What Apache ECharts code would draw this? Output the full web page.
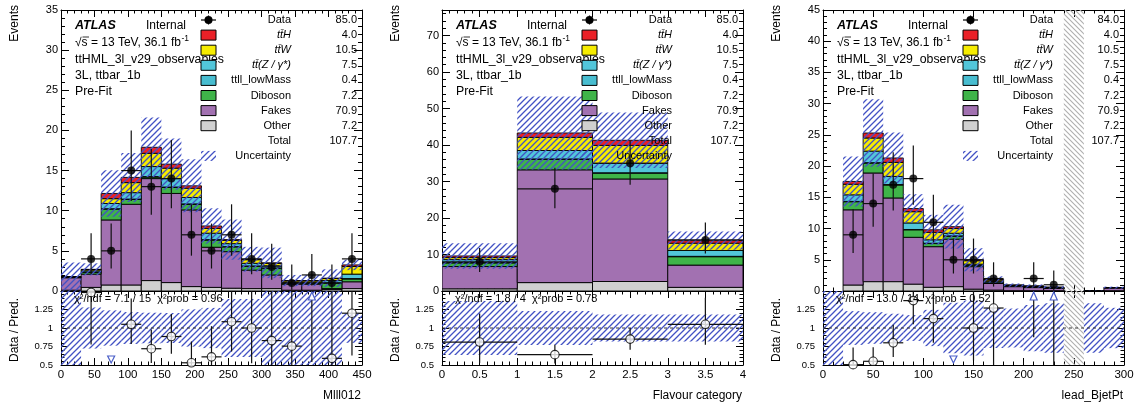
<!DOCTYPE html>
<html><head><meta charset="utf-8">
<script src="https://cdn.jsdelivr.net/npm/echarts@6/dist/echarts.min.js"></script>
<style>html,body{margin:0;padding:0;background:#fff}#c{width:1137px;height:409px}</style>
</head><body><div id="c"></div>
<script>
// ---------------- DATA ----------------
// stack order (bottom -> top): Other, Fakes, Diboson, ttll_lowMass, ttZ, ttW, ttH
const legendLabels = ['Data','tt\u0304H','tt\u0304W','tt\u0304(Z / \u03B3*)','ttll_lowMass','Diboson','Fakes','Other','Total','Uncertainty'];
const p1Yields = ['85.0','4.0','10.5','7.5','0.4','7.2','70.9','7.2','107.7',''];
const p2Yields = ['85.0','4.0','10.5','7.5','0.4','7.2','70.9','7.2','107.7',''];
const p3Yields = ['84.0','4.0','10.5','7.5','0.4','7.2','70.9','7.2','107.7',''];
const infoLines = ['ttHML_3l_v29_observables','3L, ttbar_1b','Pre-Fit'];

// Panel 1: Mlll012
const p1Edges   = [0,30,60,90,120,150,180,210,240,270,300,330,360,390,420,450];
const p1Other   = [0.1,0.45,0.75,0.75,1.3,1.05,0.55,0.45,0.35,0.3,0.3,0.1,0.1,0.2,0.3];
const p1Fakes   = [1.55,1.65,8.1,10.05,12.7,11.1,9.55,5.0,4.55,2.3,1.7,0.75,0.75,0.1,0.85];
const p1Diboson = [0.05,0.25,1.35,0.6,0.2,0.75,0.7,0.9,0.6,0.5,0.8,0.1,0.1,0.7,0.35];
const p1LowMass = [0,0.02,0.05,0.05,0.05,0.05,0.05,0.05,0.03,0.02,0.02,0.01,0.01,0.02,0.05];
const p1TtZ     = [0.05,0.15,0.65,0.8,1.25,1.05,0.8,0.8,0.37,0.33,0.33,0.09,0.09,0.28,0.55];
const p1TtW     = [0.03,0.15,0.6,1.25,1.65,1.3,1.15,0.6,0.4,0.45,0.3,0.2,0.2,0.25,0.95];
const p1TtH     = [0.02,0.03,0.65,0.65,0.75,0.5,0.3,0.3,0.1,0.05,0.05,0.05,0.05,0.05,0.2];
const p1Unc     = [1.75,0.75,2.9,3.05,3.7,3.2,3.3,2.2,2.5,1.55,1.9,0.7,0.7,1.1,0.65];
const p1Data    = [null,4,5,15,13,14,7,5,7,4,3,1,2,1,4];
const p1DataLo  = [null,2.1,2.8,11.2,9.5,10.3,4.4,2.8,4.4,2.1,1.4,0.17,0.7,0.17,2.1];
const p1DataHi  = [null,7.2,8.4,20.0,17.7,18.8,10.8,8.4,10.8,7.2,5.9,3.3,4.6,3.3,7.2];
const p1Ratio   = [null,1.48,0.42,1.05,0.72,0.885,0.53,0.61,1.085,1.0,0.83,0.755,1.54,0.59,1.2];
const p1GrayBins = [];

// Panel 2: Flavour category
const p2Edges   = [0,1,2,3,4];
const p2Other   = [0.6,2.3,2.6,1.0];
const p2Fakes   = [6.1,30.9,28.1,6.1];
const p2Diboson = [1.0,2.9,1.6,2.3];
const p2LowMass = [0.1,0.1,0.1,0.1];
const p2TtZ     = [0.8,2.3,2.6,1.6];
const p2TtW     = [0.55,3.6,4.9,2.0];
const p2TtH     = [0.45,1.2,1.4,0.7];
const p2Unc     = [3.5,10.0,7.6,2.5];
const p2Data    = [8,28,35,14];
const p2DataLo  = [5.2,22.7,29.1,10.3];
const p2DataHi  = [11.8,33.8,41.2,18.8];
const p2Ratio   = [0.81,0.64,0.85,1.05];
const p2GrayBins = [];

// Panel 3: lead_BjetPt
const p3Edges   = [0,20,40,60,80,100,120,140,160,180,200,220,240,260,280,300];
const p3Other   = [0,0.96,1.5,1.5,1.1,0.6,0.7,0.3,0.15,0.05,0.05,0.05,0,0,0.05];
const p3Fakes   = [0,12.04,17.4,13.4,7.5,6.5,7.6,3.6,1.05,0.65,0.5,0.35,0,0.05,0.45];
const p3Diboson = [0,1.3,1.6,2.1,1.2,0.5,0.5,0.2,0.1,0.05,0.1,0.1,0,0,0.02];
const p3LowMass = [0,0.05,0.05,0.05,0.05,0.05,0.03,0.02,0.02,0.01,0.01,0.01,0,0,0];
const p3TtZ     = [0,1.05,1.85,1.3,1.05,0.55,0.42,0.18,0.18,0.09,0.07,0.05,0,0.01,0.02];
const p3TtW     = [0,1.7,2.1,2.25,1.8,1.2,0.75,0.55,0.25,0.08,0.05,0.03,0,0,0.01];
const p3TtH     = [0,0.45,0.8,0.7,0.5,0.4,0.3,0.15,0.1,0.02,0.02,0.01,0,0,0];
const p3Unc     = [0,4.0,5.4,4.1,2.3,2.4,3.5,1.85,0.5,0.25,0.25,0.2,0,0.02,0.15];
const p3Data    = [null,9,14,17,18,11,5,5,2,null,2,1,null,null,null];
const p3DataLo  = [null,6.1,10.3,12.9,13.8,7.8,2.8,2.8,0.7,null,0.7,0.17,null,null,null];
const p3DataHi  = [null,13.1,18.8,22.2,23.3,15.4,8.4,8.4,4.6,null,4.6,3.3,null,null,null];
const p3Ratio   = [null,0.505,0.55,0.8,1.37,1.127,0.48,1.0,1.27,null,2.5,1.67,null,null,null];
const p3GrayBins = [12];

// ---------------- STYLE / LAYOUT ----------------
const FONT = '"Liberation Sans", Arial, Helvetica, sans-serif';
const COMP_COLORS = ['#d0d0d0','#a271b1','#3fb449','#48bdd0','#52c6da','#f6ec00','#ea2027']; // Other..ttH
const LEGEND_COLORS = ['#ea2027','#f6ec00','#52c6da','#48bdd0','#3fb449','#a271b1','#d0d0d0'];
const L = {mainTop:10, mainH:281, ratioTop:291, ratioH:74, lefts:[61,442,823], width:301};

function makeHatch(color, dir, size, lw) {
  const c = document.createElement('canvas'); c.width = size; c.height = size;
  const g = c.getContext('2d'); g.strokeStyle = color; g.lineWidth = lw; g.beginPath();
  if (dir > 0) {
    g.moveTo(0,size); g.lineTo(size,0);
    g.moveTo(-size,size); g.lineTo(size,-size);
    g.moveTo(0,2*size); g.lineTo(2*size,0);
  } else {
    g.moveTo(0,0); g.lineTo(size,size);
    g.moveTo(-size,0); g.lineTo(size,2*size);
    g.moveTo(0,-size); g.lineTo(2*size,size);
  }
  g.stroke(); return c;
}
const HATCH = {image: makeHatch('rgba(66,82,196,1)', 1, 6, 1.3), repeat:'repeat'};
const GRAYHATCH = {image: makeHatch('rgba(175,175,175,1)', -1, 5, 1.1), repeat:'repeat'};

const panels = [
  {edges:p1Edges, comps:[p1Other,p1Fakes,p1Diboson,p1LowMass,p1TtZ,p1TtW,p1TtH], unc:p1Unc, data:p1Data, lo:p1DataLo, hi:p1DataHi, ratio:p1Ratio, gray:p1GrayBins, xmax:450, xInt:50, ymax:35, yInt:5, xTitle:'Mlll012', chi2:'\u03C7\u00B2/ndf = 7.1 / 15  \u03C7\u00B2prob = 0.96', yields:p1Yields},
  {edges:p2Edges, comps:[p2Other,p2Fakes,p2Diboson,p2LowMass,p2TtZ,p2TtW,p2TtH], unc:p2Unc, data:p2Data, lo:p2DataLo, hi:p2DataHi, ratio:p2Ratio, gray:p2GrayBins, xmax:4, xInt:0.5, ymax:77, yInt:10, xTitle:'Flavour category', chi2:'\u03C7\u00B2/ndf = 1.8 / 4  \u03C7\u00B2prob = 0.78', yields:p2Yields},
  {edges:p3Edges, comps:[p3Other,p3Fakes,p3Diboson,p3LowMass,p3TtZ,p3TtW,p3TtH], unc:p3Unc, data:p3Data, lo:p3DataLo, hi:p3DataHi, ratio:p3Ratio, gray:p3GrayBins, xmax:300, xInt:50, ymax:45, yInt:5, xTitle:'lead_BjetPt', chi2:'\u03C7\u00B2/ndf = 13.0 / 14  \u03C7\u00B2prob = 0.52', yields:p3Yields}
];

// ---------------- BUILD ----------------
const grid = [], xAxis = [], yAxis = [], series = [], graphic = [];
const tickCommon = (len) => ({show:true, inside:true, length:len, lineStyle:{color:'#000', width:1}});
function mkX(gi, p, pos, labels) {
  return {type:'value', gridIndex:gi, min:0, max:p.xmax, interval:p.xInt, position:pos,
    axisLine:{show:true, onZero:false, lineStyle:{color:'#000', width:1}},
    axisTick:tickCommon(7), minorTick:{show:true, splitNumber:5, length:3.5, lineStyle:{color:'#000'}},
    splitLine:{show:false}, minorSplitLine:{show:false},
    axisLabel:{show:labels, margin:4, color:'#000', fontSize:11.5, fontFamily:FONT}};
}
function mkY(gi, min, max, interval, pos, labels, fs, margin, fmt, tl) {
  return {type:'value', gridIndex:gi, min, max, interval, position:pos,
    axisLine:{show:true, onZero:false, lineStyle:{color:'#000', width:1}},
    axisTick:tickCommon(tl), minorTick:{show:true, splitNumber:5, length:tl/2, lineStyle:{color:'#000'}},
    splitLine:{show:false}, minorSplitLine:{show:false},
    axisLabel:{show:labels, margin, color:'#000', fontSize:fs, fontFamily:FONT, formatter:fmt}};
}
function rectRender(styleFn) {
  return (params, api) => {
    const a = api.coord([api.value(0), api.value(3)]);
    const b = api.coord([api.value(1), api.value(2)]);
    return {type:'rect', shape:{x:a[0], y:a[1], width:b[0]-a[0], height:b[1]-a[1]}, style:styleFn(params)};
  };
}
function txt(x, y, text, font, align, extra) {
  return Object.assign({type:'text', x, y, z:100, silent:true, style:{text, font, fill:'#000',
    align:align||'left', textAlign:align||'left', verticalAlign:'middle', textVerticalAlign:'middle'}}, extra||{});
}
const mctx = document.createElement('canvas').getContext('2d');
function measure(t, font) { mctx.font = font; return mctx.measureText(t).width; }

panels.forEach((p, k) => {
  const left = L.lefts[k];
  const gm = 2*k, gr = 2*k+1;
  grid.push({left, top:L.mainTop, width:L.width, height:L.mainH});
  grid.push({left, top:L.ratioTop, width:L.width, height:L.ratioH});
  const xi = 4*k;
  xAxis.push(mkX(gm,p,'bottom',false), mkX(gm,p,'top',false), mkX(gr,p,'bottom',true), mkX(gr,p,'top',false));
  const yfmt = v => (Math.abs(v % p.yInt) < 1e-9 ? String(v) : '');
  const rfmt = v => (v > 1.49 ? '' : String(v));
  yAxis.push(mkY(gm,0,p.ymax,p.yInt,'left',true,11,3,yfmt,8), mkY(gm,0,p.ymax,p.yInt,'right',false,11,3,yfmt,8),
             mkY(gr,0.5,1.5,0.25,'left',true,9.5,8,rfmt,7), mkY(gr,0.5,1.5,0.25,'right',false,9.5,8,rfmt,7));
  const nb = p.edges.length - 1;
  const totals = [];
  const base = new Array(nb).fill(0);
  // stacked layers
  p.comps.forEach((comp, ci) => {
    const items = [];
    for (let i = 0; i < nb; i++) {
      if (comp[i] > 0) items.push([p.edges[i], p.edges[i+1], base[i], base[i] + comp[i]]);
      base[i] += comp[i];
    }
    series.push({type:'custom', xAxisIndex:xi, yAxisIndex:xi, clip:true, z:2, data:items,
      renderItem: rectRender(() => ({fill:COMP_COLORS[ci], stroke:'#000', lineWidth:0.9}))});
  });
  for (let i = 0; i < nb; i++) totals.push(base[i]);
  // uncertainty band main
  const band = [], rband = [], gray = [];
  for (let i = 0; i < nb; i++) {
    if (p.gray.indexOf(i) >= 0) { gray.push([p.edges[i], p.edges[i+1]]); continue; }
    if (totals[i] > 0) band.push([p.edges[i], p.edges[i+1], totals[i]-p.unc[i], totals[i]+p.unc[i]]);
    const r = totals[i] > 0 ? p.unc[i]/totals[i] : 10;
    rband.push([p.edges[i], p.edges[i+1], 1-r, 1+r]);
  }
  series.push({type:'custom', xAxisIndex:xi, yAxisIndex:xi, clip:true, z:3, data:band,
    renderItem: rectRender(() => ({fill:HATCH}))});
  series.push({type:'custom', xAxisIndex:xi+2, yAxisIndex:xi+2, clip:true, z:3, data:rband,
    renderItem: rectRender(() => ({fill:HATCH}))});
  if (gray.length) {
    series.push({type:'custom', xAxisIndex:xi, yAxisIndex:xi, clip:true, z:3, data:gray.map(g => [g[0], g[1], 0, p.ymax]),
      renderItem: rectRender(() => ({fill:GRAYHATCH}))});
    series.push({type:'custom', xAxisIndex:xi+2, yAxisIndex:xi+2, clip:true, z:3, data:gray.map(g => [g[0], g[1], 0.5, 1.5]),
      renderItem: rectRender(() => ({fill:GRAYHATCH}))});
  }
  // ratio = 1 dashed line
  series.push({type:'custom', xAxisIndex:xi+2, yAxisIndex:xi+2, clip:true, z:4, data:[[0, p.xmax, 1]],
    renderItem: (params, api) => {
      const a = api.coord([api.value(0), api.value(2)]), b = api.coord([api.value(1), api.value(2)]);
      return {type:'line', shape:{x1:a[0], y1:a[1], x2:b[0], y2:b[1]}, style:{stroke:'#333', lineWidth:1, lineDash:[3,3]}};
    }});
  // data points and error bars (main)
  const dErr = [], dPts = [], rErr = [], rPts = [], rTri = [];
  for (let i = 0; i < nb; i++) {
    if (p.data[i] == null) continue;
    const xc = (p.edges[i] + p.edges[i+1]) / 2;
    dErr.push([p.edges[i], p.edges[i+1], xc, p.data[i], p.lo[i], p.hi[i]]);
    dPts.push([xc, p.data[i]]);
    const r = p.ratio[i];
    const rlo = r * p.lo[i] / p.data[i], rhi = r * p.hi[i] / p.data[i];
    if (r > 1.5) rTri.push([xc, 1, rlo]);
    else if (r < 0.5) rTri.push([xc, -1, rlo]);
    else { rErr.push([p.edges[i], p.edges[i+1], xc, r, rlo, rhi]); rPts.push([xc, r]); }
  }
  const errRender = (params, api) => {
    const y = api.value(3);
    const h0 = api.coord([api.value(0), y]), h1 = api.coord([api.value(1), y]);
    const v0 = api.coord([api.value(2), api.value(4)]), v1 = api.coord([api.value(2), api.value(5)]);
    const st = {stroke:'#111', lineWidth:1.2};
    return {type:'group', children:[
      {type:'line', shape:{x1:h0[0], y1:h0[1], x2:h1[0], y2:h1[1]}, style:st},
      {type:'line', shape:{x1:v0[0], y1:v0[1], x2:v1[0], y2:v1[1]}, style:st}]};
  };
  series.push({type:'custom', xAxisIndex:xi, yAxisIndex:xi, clip:true, z:5, data:dErr, renderItem:errRender});
  series.push({type:'scatter', xAxisIndex:xi, yAxisIndex:xi, z:6, data:dPts, symbol:'circle', symbolSize:8,
    itemStyle:{color:'#000'}, silent:true});
  series.push({type:'custom', xAxisIndex:xi+2, yAxisIndex:xi+2, clip:true, z:5, data:rErr, renderItem:errRender});
  series.push({type:'scatter', xAxisIndex:xi+2, yAxisIndex:xi+2, z:6, data:rPts, symbol:'circle', symbolSize:8.5,
    itemStyle:{color:'#fff', borderColor:'#000', borderWidth:1.1}, silent:true});
  series.push({type:'custom', xAxisIndex:xi+2, yAxisIndex:xi+2, clip:true, z:6, data:rTri,
    renderItem: (params, api) => {
      const x = api.coord([api.value(0), 1])[0];
      const top = api.coord([api.value(0), 1.5])[1], bot = api.coord([api.value(0), 0.5])[1];
      const st = {fill:'#fff', stroke:'#4a5fc8', lineWidth:1.2};
      if (api.value(1) > 0) {
        const lo = api.coord([api.value(0), api.value(2)])[1];
        return {type:'group', children:[
          {type:'line', shape:{x1:x, y1:lo, x2:x, y2:top+9}, style:{stroke:'#111', lineWidth:1.2}},
          {type:'polygon', shape:{points:[[x, top+1],[x-3.5, top+9],[x+3.5, top+9]]}, style:st}]};
      }
      return {type:'polygon', shape:{points:[[x, bot-2],[x-3.5, bot-9],[x+3.5, bot-9]]}, style:st};
    }});

  // ---- texts ----
  graphic.push(txt(left+14, 26, 'ATLAS', 'italic bold 12.5px '+FONT));
  graphic.push(txt(left+85, 26, 'Internal', '12px '+FONT));
  const sF = '12px '+FONT;
  const sTxt = '\u221As = 13 TeV, 36.1 fb';
  graphic.push(txt(left+14, 43, sTxt, sF));
  graphic.push(txt(left+14 + measure(sTxt, sF) + 0.5, 39, '-1', '8.5px '+FONT));
  graphic.push({type:'line', z:100, silent:true, shape:{x1:left+21.5, y1:37, x2:left+28, y2:37}, style:{stroke:'#000', lineWidth:0.8}});
  infoLines.forEach((t, j) => graphic.push(txt(left+14, 60 + 16*j, t, '12.3px '+FONT)));
  // legend
  const lf = '11px '+FONT, lfi = 'italic 11px '+FONT;
  legendLabels.forEach((lab, j) => {
    const y = 20 + 15.1*j;
    const italic = j >= 1 && j <= 3;
    graphic.push(txt(left+230, y, lab, italic ? lfi : lf, 'right'));
    if (p.yields[j]) graphic.push(txt(left+296, y, p.yields[j], lf, 'right'));
    if (j === 0) {
      graphic.push({type:'line', z:100, silent:true, shape:{x1:left+140, y1:y, x2:left+155, y2:y}, style:{stroke:'#000', lineWidth:1.2}});
      graphic.push({type:'line', z:100, silent:true, shape:{x1:left+147.5, y1:y-4.5, x2:left+147.5, y2:y+4.5}, style:{stroke:'#000', lineWidth:1.2}});
      graphic.push({type:'circle', z:101, silent:true, shape:{cx:left+147.5, cy:y, r:4}, style:{fill:'#000'}});
    } else if (j >= 1 && j <= 7) {
      graphic.push({type:'rect', z:100, silent:true, shape:{x:left+140, y:y-5, width:15, height:10}, style:{fill:LEGEND_COLORS[j-1], stroke:'#000', lineWidth:1}});
    } else if (j === 9) {
      graphic.push({type:'rect', z:100, silent:true, shape:{x:left+140, y:y-5, width:15, height:10}, style:{fill:HATCH}});
    }
  });
  graphic.push(txt(left+13, 299, p.chi2, '11px '+FONT));
  graphic.push(txt(left+300, 396, p.xTitle, '12px '+FONT, 'right'));
  const ylx = left - 46;
  graphic.push(txt(ylx, 5, 'Events', '12px '+FONT, 'right', {rotation:Math.PI/2}));
  graphic.push(txt(ylx, 330, 'Data / Pred.', '12px '+FONT, 'center', {rotation:Math.PI/2}));
});

const chart = echarts.init(document.getElementById('c'), null, {renderer:'canvas'});
chart.setOption({animation:false, backgroundColor:'#fff', grid, xAxis, yAxis, series, graphic});
</script></body></html>
